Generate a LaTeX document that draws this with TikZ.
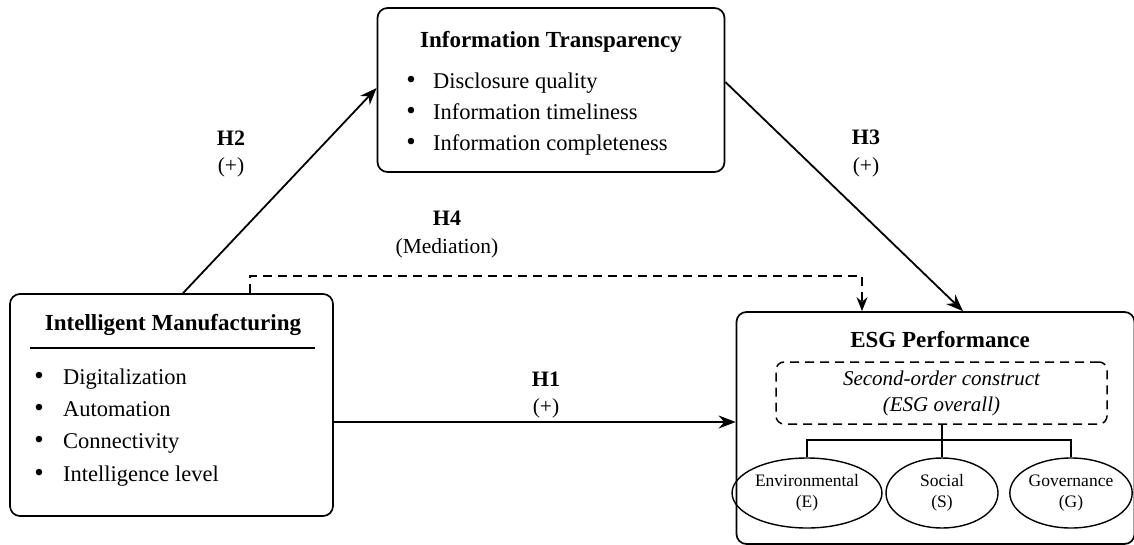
\documentclass[tikz,border=0pt]{standalone}
\usepackage{fontspec}
\setmainfont{Liberation Serif}
\usetikzlibrary{arrows.meta, positioning, calc, shapes}

\begin{document}
\begin{tikzpicture}[x=1pt, y=-1pt,
  box/.style={draw, line width=1.7pt, rounded corners=10pt, inner sep=0pt},
  title/.style={font=\fontsize{23}{27}\selectfont\bfseries},
  bul/.style={anchor=base, font=\fontsize{27}{30}\selectfont, inner sep=0pt},
  item/.style={anchor=base west, font=\fontsize{22.5}{26}\selectfont, inner sep=0pt},
  hlab/.style={font=\fontsize{22}{26}\selectfont\bfseries},
  sign/.style={font=\fontsize{21.5}{25}\selectfont},
  link/.style={-{Stealth[length=17pt, width=13pt]}, line width=1.8pt},
  dsh/.style={dash pattern=on 9pt off 6pt},
  dim/.style={draw, ellipse, line width=1.4pt, minimum width=112pt, minimum height=70pt,
    inner sep=1pt, align=center, font=\fontsize{17.5}{21}\selectfont}]

\useasboundingbox (0,0) rectangle (1134,544);

% main constructs
\node[box, minimum width=323pt, minimum height=222pt] (im) at (171.5,405) {};
\node[box, minimum width=347pt, minimum height=164pt] (it) at (551,90) {};
\node[box, minimum width=398pt, minimum height=232pt] (esg) at (935.5,428) {};

% Intelligent Manufacturing
\node[title] (im-title) at (173,325) {Intelligent Manufacturing};
\draw[line width=1.3pt] (30,348) -- (315,348);
\foreach \y/\txt [count=\i] in {384/Digitalization, 416/Automation, 448/Connectivity, 481/Intelligence level} {
  \node[bul] (im-b\i) at (39,\y) {\textbullet};
  \node[item] (im-t\i) at (63,\y) {\txt};
}

% Information Transparency
\node[title] (it-title) at (551,42) {Information Transparency};
\foreach \y/\txt [count=\i] in {88/Disclosure quality, 119/Information timeliness, 150/Information completeness} {
  \node[bul] (it-b\i) at (411,\y) {\textbullet};
  \node[item] (it-t\i) at (433,\y) {\txt};
}

% ESG Performance
\node[title] (esg-title) at (940,340) {ESG Performance};
\node[draw, dsh, line width=1.5pt, rounded corners=8pt, minimum width=331pt, minimum height=62pt,
  align=center, font=\fontsize{21}{26}\selectfont\itshape] (so) at (941.5,393)
  {Second-order construct\\(ESG overall)};
\node[dim] (env) at (807,493) {Environmental\\(E)};
\node[dim] (soc) at (942,493) {Social\\(S)};
\node[dim] (gov) at (1071,493) {Governance\\(G)};
\draw[line width=1.4pt] (so.south -| soc.north) -- (soc.north);
\draw[line width=1.4pt] (env.north) -- (env.north |- 0,440) -- (gov.north |- 0,440) -- (gov.north);

% hypotheses
\draw[link] (im.east |- 0,422) -- (esg.west |- 0,422);
\node[hlab] (h1) at (546,379) {H1};
\node[sign] (h1s) at (546,408) {(+)};

\draw[link] (183,0 |- im.north) -- (it.west |- 0,88);
\node[hlab] (h2) at (231,138) {H2};
\node[sign] (h2s) at (231,167) {(+)};

\draw[link] (it.east |- 0,82) -- (963,0 |- esg.north);
\node[hlab] (h3) at (866,137) {H3};
\node[sign] (h3s) at (866,167) {(+)};

\draw[-{Stealth[length=14pt, width=11pt]}, line width=1.7pt, dsh]
  (250,0 |- im.north) -- (250,276) -- (862,276) -- (862,0 |- esg.north);
\node[hlab] (h4) at (447,218) {H4};
\node[sign] (h4s) at (447,248) {(Mediation)};
\end{tikzpicture}
\end{document}
